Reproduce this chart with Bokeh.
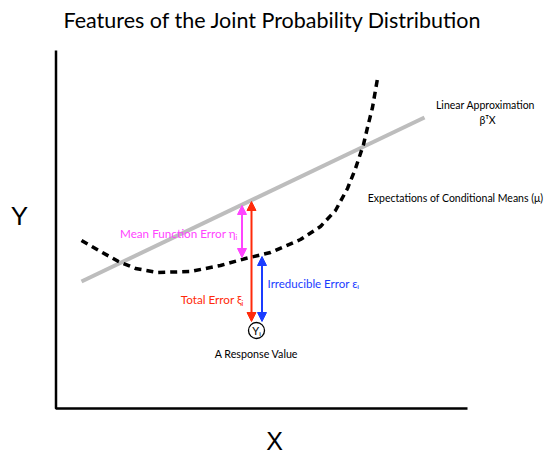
from bokeh.plotting import figure
from bokeh.models import Range1d, Arrow, NormalHead
from bokeh.core.properties import value
from bokeh.embed import file_html
from bokeh.resources import INLINE

# Diagram data (in drawing units)
curve_x = [81, 100, 118, 135, 157, 190, 220, 245, 270, 300, 320, 335, 347, 355, 360, 363, 367, 372, 377]
curve_y = [240, 251, 261, 268, 272, 271, 265, 258, 252, 239, 226, 210, 188, 168, 153, 144, 127, 107, 78]
linear_x = [81, 424]
linear_y = [281, 117]
axis_x = [55.5, 55.5, 467]
axis_y = [50, 408, 408]

# error arrows: x, top, bottom, colour
err_x = [241.5, 251, 261.5]
err_top = [205, 201, 256]
err_bottom = [257, 321, 321]
err_colors = ["#ff44ff", "#ff2a0a", "#1a3cff"]

resp_x = 256
resp_y = 330

FONT = "Lato"

p = figure(width=548, height=454, output_backend="svg", toolbar_location=None,
           x_range=Range1d(0, 548), y_range=Range1d(454, 0),
           min_border=0, outline_line_color=None)
p.axis.visible = False
p.grid.visible = False

# axes
p.line(axis_x, axis_y, line_color="black", line_width=2.5)

# linear approximation
p.line(linear_x, linear_y, line_color="#bdbdbd", line_width=4)

# conditional means curve
p.line(curve_x, curve_y, line_color="black", line_width=3.5, line_dash="7 5")

# error arrows
for x, t, b, c in zip(err_x, err_top, err_bottom, err_colors):
    p.add_layout(Arrow(x_start=x, y_start=t, x_end=x, y_end=b, line_color=c, line_width=2,
                       start=NormalHead(size=9, fill_color=c, line_color=c, line_width=1),
                       end=NormalHead(size=9, fill_color=c, line_color=c, line_width=1)))

# response value circle
p.scatter([resp_x], [resp_y], size=16, marker="circle", fill_color="white",
          line_color="black", line_width=1.3)
p.text([resp_x], [resp_y], text=["Yᵢ"], text_font=value(FONT), text_font_size="11px",
       text_align="center", text_baseline="middle", text_color="black")

def lab(x, y, t, size, color="black", align="left", font=FONT):
    p.text([x], [y], text=[t], text_font=value(font), text_font_size=size,
           text_align=align, text_baseline="middle", text_color=color)

lab(275, 19, "Features of  the Joint Probability Distribution", "21.5px", align="center")
lab(19, 215, "Y", "26px", align="center", font="Liberation Sans")
lab(274, 440, "X", "25px", align="center", font="Liberation Sans")
lab(485, 104, "Linear Approximation", "10.5px", align="center")
lab(487, 119, "βᵀX", "10.5px", align="center")
lab(455, 197, "Expectations of Conditional Means (μ)", "10.5px", align="center")
lab(237, 232, "Mean Function Error ηᵢ", "11.7px", color="#ff44ff", align="right")
lab(243, 298, "Total Error ξᵢ", "11.7px", color="#ff2a0a", align="right")
lab(267, 283, "Irreducible Error εᵢ", "11.5px", color="#1a3cff", align="left")
lab(256, 353, "A Response Value", "10.7px", align="center")

open("out.html", "w").write(file_html(p, INLINE))
